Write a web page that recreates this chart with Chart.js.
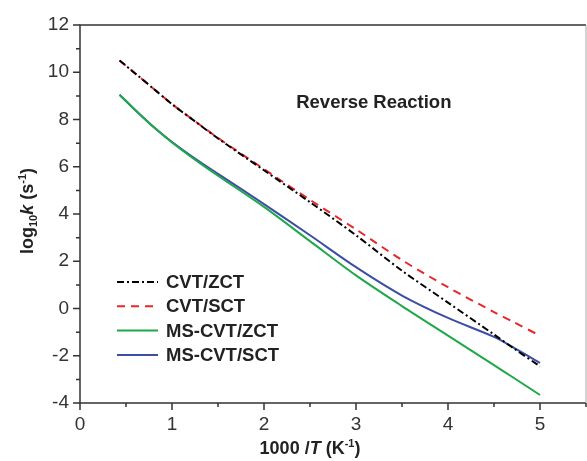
<!DOCTYPE html>
<html>
<head>
<meta charset="utf-8">
<script src="https://cdn.jsdelivr.net/npm/chart.js@4.4.1/dist/chart.umd.min.js"></script>
<style>
  html, body { margin: 0; padding: 0; background: #fff; }
  #wrap { width: 587px; height: 461px; }
</style>
</head>
<body>
<div id="wrap"><canvas id="canvas-1" width="587" height="461"></canvas></div>
<script>
'use strict';

// 1000/T values (K^-1) shared by all curves
var invT = [0.43, 0.6, 0.8, 1, 1.25, 1.5, 2, 2.5, 3, 3.5, 4, 4.5, 4.7, 5];

// log10 k values
var cvtZct   = [10.5, 9.95, 9.3, 8.65, 7.92, 7.2, 5.85, 4.5, 3.1, 1.6, 0.25, -1.1, -1.65, -2.45];
var cvtSct   = [10.5, 9.95, 9.3, 8.65, 7.93, 7.22, 5.9, 4.6, 3.35, 2.05, 0.9, -0.15, -0.55, -1.15];
var msCvtZct = [9.05, 8.4, 7.68, 7.03, 6.3, 5.62, 4.3, 2.85, 1.4, 0.1, -1.15, -2.4, -2.9, -3.66];
var msCvtSct = [9.05, 8.4, 7.68, 7.05, 6.35, 5.7, 4.42, 3.1, 1.75, 0.55, -0.4, -1.2, -1.62, -2.3];

var seriesNames = ['CVT/ZCT', 'CVT/SCT', 'MS-CVT/ZCT', 'MS-CVT/SCT'];

// axis ticks
var xMajor = [0, 1, 2, 3, 4, 5];
var xMinor = [0.5, 1.5, 2.5, 3.5, 4.5, 5.5];
var yMajor = [-4, -2, 0, 2, 4, 6, 8, 10, 12];
var yMinor = [-3, -1, 1, 3, 5, 7, 9, 11];

var FONT = "Arial, 'Liberation Sans', sans-serif";

function toPoints(ys) {
    var pts = [];
    for (var i = 0; i < ys.length; i++) {
        pts.push({ x: invT[i], y: ys[i] });
    }
    return pts;
}

// draws a list of [text, font, dy] pieces in a row, starting at x
function richText(ctx, parts, x, y, align) {
    var total = 0;
    parts.forEach(function (p) { ctx.font = p[1]; total += ctx.measureText(p[0]).width; });
    var cx = align === 'center' ? x - total / 2 : x;
    parts.forEach(function (p) {
        ctx.font = p[1];
        ctx.fillText(p[0], cx, y + (p[2] || 0));
        cx += ctx.measureText(p[0]).width;
    });
}

var decor = {
    id: 'decor',
    afterDatasetsDraw: function (chart) {
        var ctx = chart.ctx, a = chart.chartArea;
        var xs = chart.scales.x, ys = chart.scales.y;
        ctx.save();

        // frame
        ctx.lineWidth = 1.5;
        ctx.strokeStyle = '#333';
        ctx.beginPath();
        ctx.moveTo(a.right, a.top);
        ctx.lineTo(a.left, a.top);
        ctx.lineTo(a.left, a.bottom);
        ctx.lineTo(a.right, a.bottom);
        ctx.stroke();
        ctx.lineWidth = 1;
        ctx.strokeStyle = '#aaa';
        ctx.beginPath();
        ctx.moveTo(a.right, a.top);
        ctx.lineTo(a.right, a.bottom);
        ctx.stroke();

        // tick marks, outward
        ctx.strokeStyle = '#333';
        ctx.lineWidth = 1.5;
        ctx.beginPath();
        xMajor.concat(xMinor).forEach(function (v) {
            var px = xs.getPixelForValue(v);
            var len = xMajor.indexOf(v) >= 0 ? 7 : 4;
            ctx.moveTo(px, a.bottom);
            ctx.lineTo(px, a.bottom + len);
        });
        yMajor.concat(yMinor).forEach(function (v) {
            var py = ys.getPixelForValue(v);
            var len = yMajor.indexOf(v) >= 0 ? 7 : 4;
            ctx.moveTo(a.left, py);
            ctx.lineTo(a.left - len, py);
        });
        ctx.stroke();

        // axis titles
        ctx.fillStyle = '#222';
        ctx.textBaseline = 'alphabetic';
        ctx.textAlign = 'left';
        richText(ctx, [
            ['1000 /', 'bold 18px ' + FONT],
            ['T', 'italic bold 18px ' + FONT],
            [' (K', 'bold 18px ' + FONT],
            ['-1', 'bold 11px ' + FONT, -7],
            [')', 'bold 18px ' + FONT]
        ], xs.getPixelForValue(2.5), 454, 'center');

        ctx.save();
        ctx.translate(33, (a.top + a.bottom) / 2 - 3);
        ctx.rotate(-Math.PI / 2);
        richText(ctx, [
            ['log', 'bold 18px ' + FONT],
            ['10', 'bold 11px ' + FONT, 4],
            ['k', 'italic bold 18px ' + FONT],
            [' (s', 'bold 18px ' + FONT],
            ['-1', 'bold 11px ' + FONT, -7],
            [')', 'bold 18px ' + FONT]
        ], 0, 0, 'center');
        ctx.restore();

        // annotation
        ctx.font = 'bold 18.5px ' + FONT;
        ctx.fillText('Reverse Reaction', xs.getPixelForValue(2.35), ys.getPixelForValue(8.5));

        // legend
        var lx = a.left + 37, ly = a.top + 257, rowH = 24.3;
        chart.data.datasets.forEach(function (ds, i) {
            var cy = ly + i * rowH;
            ctx.strokeStyle = ds.borderColor;
            ctx.lineWidth = ds.borderWidth;
            ctx.setLineDash(ds.borderDash || []);
            ctx.beginPath();
            ctx.moveTo(lx, cy);
            ctx.lineTo(lx + 41, cy);
            ctx.stroke();
            ctx.setLineDash([]);
            ctx.fillStyle = '#222';
            ctx.font = 'bold 18.5px ' + FONT;
            ctx.textBaseline = 'middle';
            ctx.fillText(ds.label, lx + 49, cy + 1);
            ctx.textBaseline = 'alphabetic';
        });

        ctx.restore();
    }
};

var ctx = document.getElementById('canvas-1');
var chart = new Chart(ctx, {
    type: 'line',
    data: {
        datasets: [
            {
                label: seriesNames[0],
                data: toPoints(cvtZct),
                borderColor: '#000000',
                borderWidth: 2,
                borderDash: [7, 3, 2, 3],
                pointRadius: 0,
                tension: 0.3
            },
            {
                label: seriesNames[1],
                data: toPoints(cvtSct),
                borderColor: '#e8262b',
                borderWidth: 2,
                borderDash: [8, 6],
                pointRadius: 0,
                tension: 0.3
            },
            {
                label: seriesNames[2],
                data: toPoints(msCvtZct),
                borderColor: '#1fa84a',
                borderWidth: 2,
                pointRadius: 0,
                tension: 0.3
            },
            {
                label: seriesNames[3],
                data: toPoints(msCvtSct),
                borderColor: '#3b4ea3',
                borderWidth: 2,
                pointRadius: 0,
                tension: 0.3
            }
        ]
    },
    options: {
        responsive: false,
        animation: false,
        layout: { padding: { top: 25, right: 1, left: 0, bottom: 0 } },
        plugins: {
            legend: { display: false },
            tooltip: { enabled: false }
        },
        scales: {
            x: {
                type: 'linear',
                min: 0,
                max: 5.5,
                border: { display: false },
                grid: { drawOnChartArea: false, drawTicks: true, tickLength: 7, tickColor: 'rgba(0,0,0,0)' },
                ticks: {
                    stepSize: 1,
                    includeBounds: false,
                    padding: 3,
                    color: '#333',
                    font: { family: FONT, size: 19 },
                    maxRotation: 0,
                    callback: function (v) { return xMajor.indexOf(v) >= 0 ? String(v) : ''; }
                },
                afterFit: function (scale) { scale.height = 58; }
            },
            y: {
                type: 'linear',
                min: -4,
                max: 12,
                border: { display: false },
                grid: { drawOnChartArea: false, drawTicks: true, tickLength: 7, tickColor: 'rgba(0,0,0,0)' },
                ticks: {
                    stepSize: 2,
                    padding: 4,
                    color: '#333',
                    font: { family: FONT, size: 19 }
                },
                afterFit: function (scale) { scale.width = 80; }
            }
        }
    },
    plugins: [decor]
});
</script>
</body>
</html>
